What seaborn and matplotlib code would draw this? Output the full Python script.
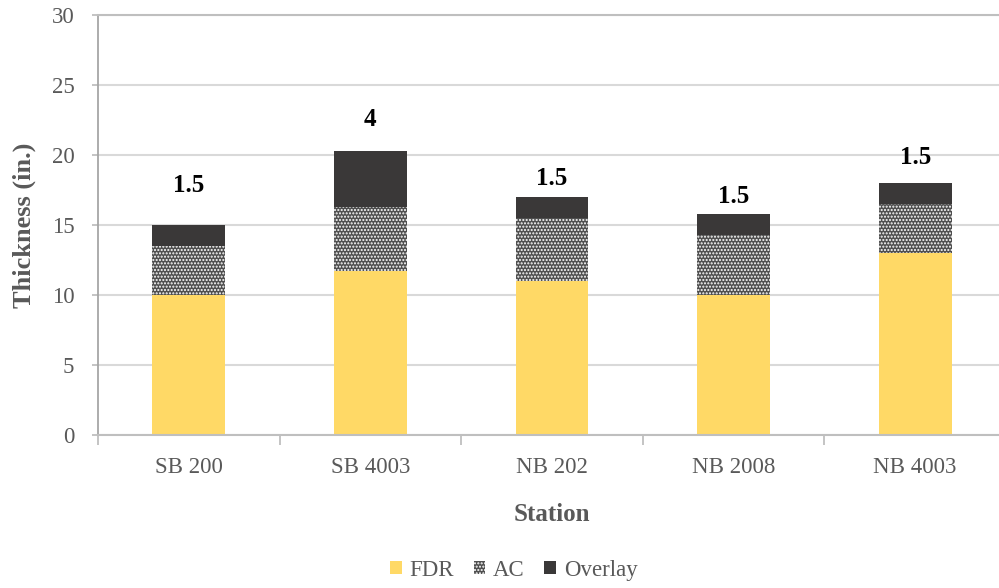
import numpy as np
import pandas as pd
import matplotlib
matplotlib.use("Agg")
import matplotlib.pyplot as plt
import seaborn as sns

# Layer thicknesses per station (in.)
stations = ["SB 200", "SB 4003", "NB 202", "NB 2008", "NB 4003"]
fdr = [10.0, 11.7, 11.0, 10.0, 13.0]
ac = [3.5, 4.6, 4.5, 4.25, 3.5]
overlay = [1.5, 4.0, 1.5, 1.5, 1.5]
overlay_labels = ["1.5", "4", "1.5", "1.5", "1.5"]

y_ticks = [0, 5, 10, 15, 20, 25, 30]

sns.set_theme(style="white")
plt.rcParams["font.family"] = ["Liberation Serif", "DejaVu Serif"]
plt.rcParams["hatch.linewidth"] = 1.0

df = pd.DataFrame({"Station": stations, "FDR": fdr, "AC": ac, "Overlay": overlay})
base_ac = np.array(fdr)
base_ov = np.array(fdr) + np.array(ac)

fig = plt.figure(figsize=(9.99, 5.88), dpi=100)
ax = fig.add_axes([0.098, 0.2602, 0.909, 0.7143])

bar_w = 0.40
sns.barplot(data=df, x="Station", y="FDR", color="#FFD966", width=bar_w,
            saturation=1, linewidth=0, label="FDR", ax=ax)
sns.barplot(data=df, x="Station", y="AC", color="#4F4F4F", width=bar_w,
            saturation=1, linewidth=0, edgecolor="white", hatch=".....",
            bottom=base_ac, label="AC", ax=ax)
sns.barplot(data=df, x="Station", y="Overlay", color="#3A3838", width=bar_w,
            saturation=1, linewidth=0, bottom=base_ov, label="Overlay", ax=ax)

# Overlay thickness annotations above each stack
label_lift = [2.85, 2.2, 1.35, 1.3, 1.8]
totals = base_ov + np.array(overlay)
for i, (top, txt) in enumerate(zip(totals, overlay_labels)):
    ax.text(i, top + label_lift[i], txt, ha="center", va="center",
            fontsize=18, fontweight="bold", color="black")

ax.set_ylim(0, 30)
ax.set_xlim(-0.5, len(stations) - 0.5)
ax.set_yticks(y_ticks)
ax.yaxis.grid(True, color="#D9D9D9", linewidth=1.5)
ax.set_axisbelow(True)

ax.spines["right"].set_visible(False)
ax.spines["top"].set_color("#BFBFBF")
ax.spines["top"].set_linewidth(1.5)
ax.spines["left"].set_color("#A6A6A6")
ax.spines["left"].set_linewidth(1.3)
ax.spines["bottom"].set_color("#BFBFBF")
ax.spines["bottom"].set_linewidth(1.5)

ax.set_xticks(np.arange(-0.5, len(stations), 1.0), minor=True)
ax.tick_params(axis="x", which="major", length=0, pad=16, labelsize=16.5,
               labelcolor="#595959")
ax.tick_params(axis="x", which="minor", length=7, width=1.3, color="#BFBFBF",
               bottom=True)
ax.tick_params(axis="y", which="major", length=4, width=1.3, color="#BFBFBF",
               left=True, pad=13, labelsize=16.5, labelcolor="#595959")

ax.set_xlabel("Station", fontsize=18, fontweight="bold", color="#595959",
              labelpad=18)
ax.set_ylabel("Thickness (in.)", fontsize=19, fontweight="bold",
              color="#595959", labelpad=11)

ax.legend(loc="center", bbox_to_anchor=(0.458, -0.322),
          bbox_transform=ax.transAxes, ncol=3, frameon=False, fontsize=16.5,
          labelcolor="#595959", handlelength=0.5, handleheight=0.5,
          handletextpad=0.35, columnspacing=0.85)

fig.savefig("out.png", dpi=100)
